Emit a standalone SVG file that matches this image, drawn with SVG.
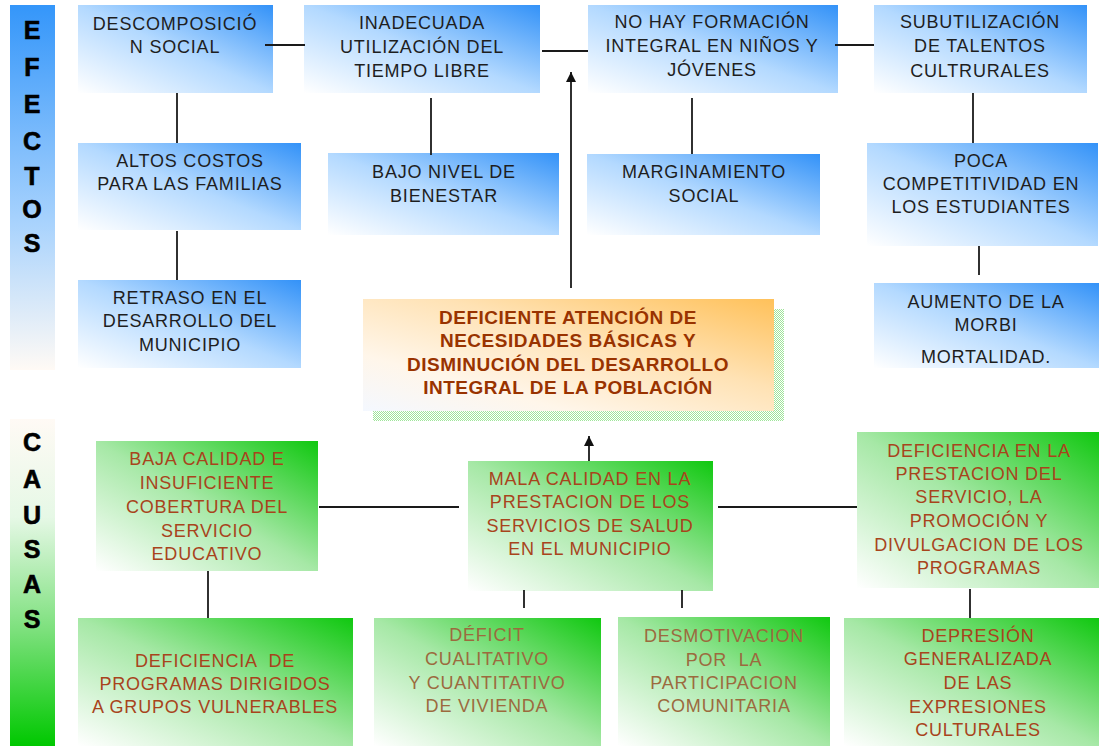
<svg xmlns="http://www.w3.org/2000/svg" width="1099" height="746" viewBox="0 0 1099 746">
<defs>
<linearGradient id="gBlue" x1="0" y1="1" x2="1" y2="0">
<stop offset="0" stop-color="#ffffff"/>
<stop offset="0.5" stop-color="#b3d9ff"/>
<stop offset="1" stop-color="#3392f8"/>
</linearGradient>
<linearGradient id="gGreen" x1="0" y1="1" x2="1" y2="0">
<stop offset="0" stop-color="#ffffff"/>
<stop offset="0.5" stop-color="#a6e8a6"/>
<stop offset="1" stop-color="#10c810"/>
</linearGradient>
<linearGradient id="gOrange" x1="0" y1="1" x2="1" y2="0">
<stop offset="0" stop-color="#f4f8ff"/>
<stop offset="0.25" stop-color="#fff6ea"/>
<stop offset="0.6" stop-color="#ffe2b4"/>
<stop offset="1" stop-color="#ffc15a"/>
</linearGradient>
<linearGradient id="gEfectos" x1="0" y1="0" x2="0" y2="1">
<stop offset="0" stop-color="#3496fa"/>
<stop offset="0.6" stop-color="#a9d3fd"/>
<stop offset="1" stop-color="#fffaf5"/>
</linearGradient>
<linearGradient id="gCausas" x1="0" y1="0" x2="0" y2="1">
<stop offset="0" stop-color="#fffaf5"/>
<stop offset="0.3" stop-color="#e6f8e6"/>
<stop offset="0.65" stop-color="#7be07b"/>
<stop offset="1" stop-color="#00c800"/>
</linearGradient>
<pattern id="dots" width="2" height="2" patternUnits="userSpaceOnUse">
<rect width="2" height="2" fill="#ffffff"/>
<rect width="1" height="1" fill="#9fe59a"/>
<rect x="1" y="1" width="1" height="1" fill="#9fe59a"/>
</pattern>
<marker id="arr" viewBox="0 0 10 10" refX="10" refY="5" markerWidth="11" markerHeight="10" markerUnits="userSpaceOnUse" orient="auto">
<path d="M0,0 L10,5 L0,10 z" fill="#111"/>
</marker>
</defs>
<style>
.blue{fill:url(#gBlue);}
.green{fill:url(#gGreen);}
.bt{font-family:"Liberation Sans",Arial,sans-serif;font-size:18px;letter-spacing:0.8px;fill:#1e1e1e;text-anchor:middle;}
.gt{font-family:"Liberation Sans",Arial,sans-serif;font-size:18px;letter-spacing:0.8px;fill:#a8441c;text-anchor:middle;}
.gm{fill:#9c6a3e;}
.ct{font-family:"Liberation Sans",Arial,sans-serif;font-size:19px;letter-spacing:0.5px;font-weight:bold;fill:#993300;text-anchor:middle;}
.lt{font-family:"Liberation Sans",Arial,sans-serif;font-size:25px;font-weight:bold;fill:#000;text-anchor:middle;stroke:#000;stroke-width:0.6;}
.ln{stroke:#1a1a1a;stroke-width:1.8;fill:none;}
</style>
<rect width="1099" height="746" fill="#ffffff"/>

<g id="efectos">
<rect x="10" y="5" width="45" height="365" fill="url(#gEfectos)"/>
<text class="lt"><tspan x="32" y="39">E</tspan><tspan x="32" y="76">F</tspan><tspan x="32" y="113">E</tspan><tspan x="32" y="150">C</tspan><tspan x="32" y="185">T</tspan><tspan x="32" y="218">O</tspan><tspan x="32" y="252">S</tspan></text>
</g>
<g id="causas">
<rect x="10" y="419" width="45" height="327" fill="url(#gCausas)"/>
<text class="lt"><tspan x="32" y="451">C</tspan><tspan x="32" y="488">A</tspan><tspan x="32" y="524">U</tspan><tspan x="32" y="558">S</tspan><tspan x="32" y="593">A</tspan><tspan x="32" y="628">S</tspan></text>
</g>

<g id="b1"><rect class="blue" x="78" y="5" width="195" height="88"/>
<text class="bt"><tspan x="175" y="30">DESCOMPOSICIÓ</tspan><tspan x="175" y="53">N SOCIAL</tspan></text></g>
<g id="b2"><rect class="blue" x="304" y="5" width="236" height="88"/>
<text class="bt"><tspan x="422" y="29">INADECUADA</tspan><tspan x="422" y="53">UTILIZACIÓN DEL</tspan><tspan x="422" y="77">TIEMPO LIBRE</tspan></text></g>
<g id="b3"><rect class="blue" x="588" y="5" width="250" height="88"/>
<text class="bt"><tspan x="712" y="28">NO HAY FORMACIÓN</tspan><tspan x="712" y="52">INTEGRAL EN NIÑOS Y</tspan><tspan x="712" y="76">JÓVENES</tspan></text></g>
<g id="b4"><rect class="blue" x="874" y="5" width="213" height="88"/>
<text class="bt"><tspan x="980" y="28">SUBUTILIZACIÓN</tspan><tspan x="980" y="52">DE TALENTOS</tspan><tspan x="980" y="77">CULTRURALES</tspan></text></g>
<g id="b5"><rect class="blue" x="78" y="143" width="223" height="87"/>
<text class="bt"><tspan x="190" y="167">ALTOS COSTOS</tspan><tspan x="190" y="190">PARA LAS FAMILIAS</tspan></text></g>
<g id="b6"><rect class="blue" x="328" y="153" width="231" height="82"/>
<text class="bt"><tspan x="444" y="178">BAJO NIVEL DE</tspan><tspan x="444" y="202">BIENESTAR</tspan></text></g>
<g id="b7"><rect class="blue" x="587" y="154" width="233" height="81"/>
<text class="bt"><tspan x="704" y="178">MARGINAMIENTO</tspan><tspan x="704" y="202">SOCIAL</tspan></text></g>
<g id="b8"><rect class="blue" x="867" y="143" width="231" height="103"/>
<text class="bt"><tspan x="981" y="167">POCA</tspan><tspan x="981" y="190">COMPETITIVIDAD EN</tspan><tspan x="981" y="213">LOS ESTUDIANTES</tspan></text></g>
<g id="b9"><rect class="blue" x="78" y="280" width="223" height="88"/>
<text class="bt"><tspan x="190" y="304">RETRASO EN EL</tspan><tspan x="190" y="327">DESARROLLO DEL</tspan><tspan x="190" y="351">MUNICIPIO</tspan></text></g>
<g id="b10"><rect class="blue" x="874" y="283" width="225" height="85"/>
<text class="bt"><tspan x="986" y="308">AUMENTO DE LA</tspan><tspan x="986" y="331">MORBI</tspan><tspan x="986" y="363">MORTALIDAD.</tspan></text></g>

<g id="problema">
<rect x="373" y="309" width="411" height="112" fill="url(#dots)"/>
<rect x="363" y="299" width="411" height="112" fill="url(#gOrange)"/>
<text class="ct"><tspan x="568" y="324">DEFICIENTE ATENCIÓN DE</tspan><tspan x="568" y="347">NECESIDADES BÁSICAS Y</tspan><tspan x="568" y="371">DISMINUCIÓN DEL DESARROLLO</tspan><tspan x="568" y="394">INTEGRAL DE LA POBLACIÓN</tspan></text>
</g>

<g id="g1"><rect class="green" x="96" y="441" width="222" height="130"/>
<text class="gt"><tspan x="207" y="465">BAJA CALIDAD E</tspan><tspan x="207" y="489">INSUFICIENTE</tspan><tspan x="207" y="513">COBERTURA DEL</tspan><tspan x="207" y="537">SERVICIO</tspan><tspan x="207" y="560">EDUCATIVO</tspan></text></g>
<g id="g2"><rect class="green" x="468" y="461" width="245" height="130"/>
<text class="gt"><tspan x="590" y="485">MALA CALIDAD EN LA</tspan><tspan x="590" y="508">PRESTACION DE LOS</tspan><tspan x="590" y="532">SERVICIOS DE SALUD</tspan><tspan x="590" y="555">EN EL MUNICIPIO</tspan></text></g>
<g id="g3"><rect class="green" x="857" y="432" width="242" height="156"/>
<text class="gt"><tspan x="979" y="457">DEFICIENCIA EN LA</tspan><tspan x="979" y="480">PRESTACION DEL</tspan><tspan x="979" y="503">SERVICIO, LA</tspan><tspan x="979" y="527">PROMOCIÓN Y</tspan><tspan x="979" y="551">DIVULGACION DE LOS</tspan><tspan x="979" y="574">PROGRAMAS</tspan></text></g>
<g id="g4"><rect class="green" x="78" y="618" width="275" height="128"/>
<text class="gt" xml:space="preserve"><tspan x="215" y="667">DEFICIENCIA  DE</tspan><tspan x="215" y="690">PROGRAMAS DIRIGIDOS</tspan><tspan x="215" y="713">A GRUPOS VULNERABLES</tspan></text></g>
<g id="g5"><rect class="green" x="374" y="618" width="227" height="128"/>
<text class="gt gm"><tspan x="487" y="641">DÉFICIT</tspan><tspan x="487" y="665">CUALITATIVO</tspan><tspan x="487" y="689">Y CUANTITATIVO</tspan><tspan x="487" y="712">DE VIVIENDA</tspan></text></g>
<g id="g6"><rect class="green" x="618" y="617" width="212" height="129"/>
<text class="gt gm" xml:space="preserve"><tspan x="724" y="642">DESMOTIVACION</tspan><tspan x="724" y="666">POR  LA</tspan><tspan x="724" y="689">PARTICIPACION</tspan><tspan x="724" y="712">COMUNITARIA</tspan></text></g>
<g id="g7"><rect class="green" x="844" y="618" width="255" height="128"/>
<text class="gt"><tspan x="978" y="642">DEPRESIÓN</tspan><tspan x="978" y="665">GENERALIZADA</tspan><tspan x="978" y="689">DE LAS</tspan><tspan x="978" y="713">EXPRESIONES</tspan><tspan x="978" y="736">CULTURALES</tspan></text></g>

<g id="connectors">
<line class="ln" x1="265" y1="45" x2="305" y2="45"/>
<line class="ln" x1="542" y1="51" x2="588" y2="51"/>
<line class="ln" x1="835" y1="45" x2="874" y2="45"/>
<line class="ln" x1="177" y1="93" x2="177" y2="143"/>
<line class="ln" x1="177" y1="231" x2="177" y2="280"/>
<line class="ln" x1="431" y1="98" x2="431" y2="155"/>
<line class="ln" x1="692" y1="98" x2="692" y2="154"/>
<line class="ln" x1="973" y1="93" x2="973" y2="143"/>
<line class="ln" x1="979" y1="246" x2="979" y2="275"/>
<line class="ln" x1="571" y1="288" x2="571" y2="72" marker-end="url(#arr)"/>
<line class="ln" x1="589" y1="461" x2="589" y2="436" marker-end="url(#arr)"/>
<line class="ln" x1="319" y1="507" x2="459" y2="507"/>
<line class="ln" x1="718" y1="507" x2="857" y2="507"/>
<line class="ln" x1="208" y1="571" x2="208" y2="618"/>
<line class="ln" x1="524" y1="590" x2="524" y2="608"/>
<line class="ln" x1="682" y1="590" x2="682" y2="608"/>
<line class="ln" x1="970" y1="589" x2="970" y2="618"/>
</g>
</svg>
